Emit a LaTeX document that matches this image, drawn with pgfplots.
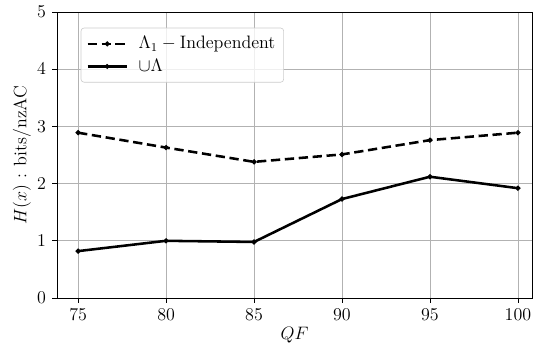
\documentclass[12pt,border=0pt]{standalone}
\usepackage{pgfplots}
\pgfplotsset{compat=1.18}
\begin{document}
\begin{tikzpicture}
\begin{axis}[
  name=ax,
  scale only axis,
  width=316.7pt, height=190.7pt,
  xmin=73.8, xmax=100.8,
  ymin=0, ymax=5,
  xtick={75,80,85,90,95,100},
  ytick={0,1,2,3,4,5},
  grid=major,
  grid style={color=black!30, line width=0.53pt},
  axis line style={line width=0.55pt},
  tick style={black, line width=0.55pt},
  tick align=outside,
  major tick length=3.2pt,
  xtick pos=bottom, ytick pos=left,
  xlabel={$QF$},
  ylabel={$H(x)$ : bits/nzAC},
  xlabel style={yshift=4pt},
  ylabel style={yshift=-4pt},
  legend style={at={(0.05,0.945)}, anchor=north west, draw=black!20, rounded corners=2pt,
    fill=white, fill opacity=0.8, text opacity=1,
    row sep=1pt, inner sep=3.5pt, column sep=5pt},
  legend cell align=left,
  legend image code/.code={\draw[#1] (0cm,0cm) -- (0.92cm,0cm); \filldraw[#1,solid] (0.46cm,0cm) circle (0.6pt);},
]
\addplot[black, line width=1.7pt, dash pattern=on 6.2pt off 3.1pt, mark=*, mark size=0.7pt, mark options={solid}]
  coordinates {(75,2.89) (80,2.63) (85,2.38) (90,2.51) (95,2.76) (100,2.89)};
\addlegendentry{$\Lambda_1 - \mathrm{Independent}$}
\addplot[black, line width=1.7pt, mark=*, mark size=0.7pt]
  coordinates {(75,0.82) (80,1.00) (85,0.98) (90,1.73) (95,2.12) (100,1.92)};
\addlegendentry{$\cup\Lambda$}
\end{axis}
\pgfresetboundingbox
\path ([shift={(-38pt,-34.7pt)}]ax.south west) rectangle ([shift={(5.33pt,8pt)}]ax.north east);
\end{tikzpicture}
\end{document}
